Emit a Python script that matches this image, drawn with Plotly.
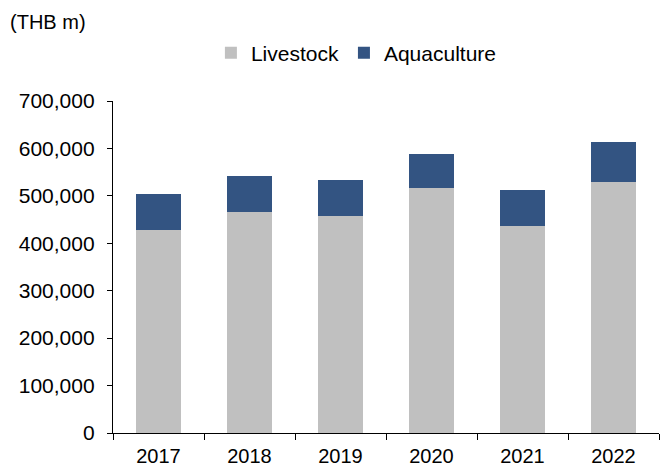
import plotly.graph_objects as go

years = ["2017", "2018", "2019", "2020", "2021", "2022"]
livestock = [428000, 466000, 457500, 516600, 436400, 529200]
aquaculture = [75900, 75900, 75900, 71700, 75900, 84300]
unit_label = "(THB m)"

FONT = "Liberation Sans, Arial, sans-serif"
FS = 21

fig = go.Figure()
fig.add_trace(go.Bar(x=years, y=livestock, name="Livestock",
                     marker=dict(color="#C0C0C0", line=dict(width=0))))
fig.add_trace(go.Bar(x=years, y=aquaculture, name="Aquaculture",
                     marker=dict(color="#335482", line=dict(width=0))))

fig.update_layout(
    barmode="stack",
    bargap=0.5,
    width=660, height=468,
    margin=dict(l=113, r=1, t=101, b=35, autoexpand=False),
    plot_bgcolor="white", paper_bgcolor="white",
    font=dict(family=FONT, size=FS, color="black"),
    legend=dict(orientation="h", xref="container", yref="container",
                x=0.54, xanchor="center", y=1 - 53 / 468, yanchor="middle",
                font=dict(size=FS), itemwidth=30, traceorder="normal",
                bgcolor="rgba(0,0,0,0)"),
    showlegend=True,
)
fig.update_yaxes(range=[0, 700000], dtick=100000, tickformat=",",
                 showgrid=False, zeroline=False, showline=True,
                 linecolor="black", linewidth=1.3, ticks="outside",
                 ticklen=5, tickcolor="black", tickwidth=1.3,
                 ticklabelstandoff=8, automargin=False)
fig.update_xaxes(type="category", tickson="boundaries", showgrid=False,
                 showline=True, linecolor="black", linewidth=1.3,
                 ticks="outside", ticklen=6, tickcolor="black", tickwidth=1.3,
                 ticklabelstandoff=5, tickfont=dict(size=20), automargin=False)
fig.add_annotation(text=unit_label, xref="paper", yref="paper",
                   x=(8 - 113) / 546, xanchor="left",
                   y=(433 - 22) / 332, yanchor="middle",
                   showarrow=False, font=dict(size=FS - 1))

fig.write_html("out.html", config={"displayModeBar": False},
               post_script="document.body.style.margin='0';document.body.style.overflow='hidden';")
